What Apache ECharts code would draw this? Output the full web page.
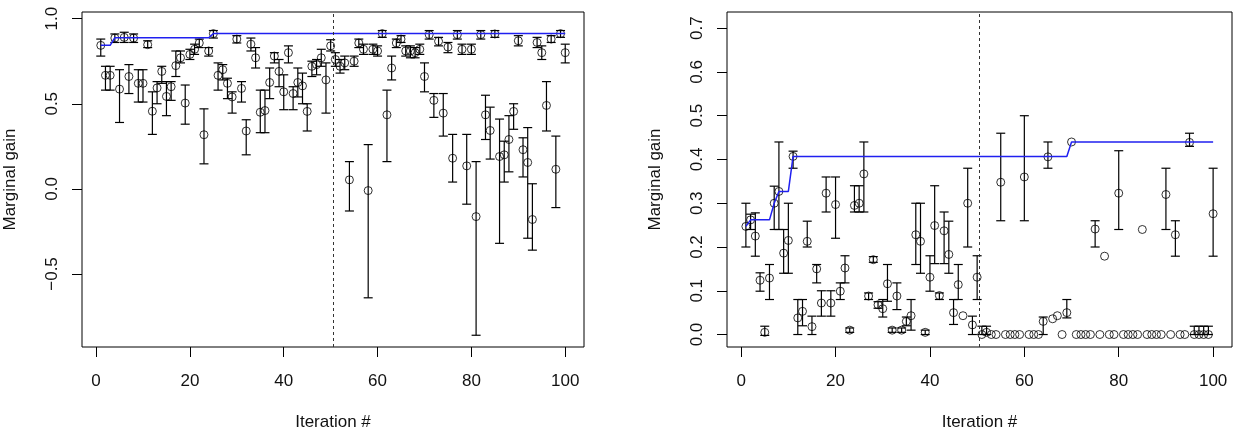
<!DOCTYPE html>
<html>
<head>
<meta charset="utf-8">
<script src="https://cdn.jsdelivr.net/npm/echarts@6/dist/echarts.min.js"></script>
<style>
  html, body { margin: 0; padding: 0; background: #fff; }
  #chart { width: 1243px; height: 437px; }
</style>
</head>
<body>
<div id="chart"></div>
<script>
// --- data (iterations 1..100) ---
var leftMean = [.843,.667,.667,.886,.586,.89,.66,.886,.62,.62,
  .847,.456,.593,.69,.543,.60,.724,.77,.504,.79,
  .82,.857,.318,.81,.912,.667,.70,.62,.54,.88,
  .59,.34,.85,.77,.45,.46,.625,.78,.69,.57,
  .80,.56,.625,.605,.455,.72,.73,.77,.64,.84,
  .76,.72,.74,.053,.75,.857,.82,-.01,.82,.81,
  .912,.435,.71,.857,.88,.81,.81,.80,.82,.66,
  .906,.52,.867,.445,.833,.18,.906,.82,.135,.82,
  -.163,.906,.435,.343,.91,.19,.20,.29,.455,.87,
  .23,.155,-.18,.86,.80,.49,.88,.115,.912,.80];
var leftLo = [.78,.58,.58,.86,.39,.86,.56,.86,.51,.51,
  .83,.32,.50,.62,.43,.52,.66,.74,.38,.76,
  .79,.83,.147,.78,.886,.58,.64,.53,.445,.857,
  .51,.20,.81,.71,.33,.33,.53,.74,.60,.465,
  .74,.465,.54,.50,.34,.66,.67,.72,.445,.81,
  .72,.68,.70,-.13,.72,.83,.79,-.64,.79,.78,
  .89,.16,.64,.83,.86,.78,.77,.77,.79,.57,
  .88,.42,.84,.31,.80,.04,.88,.79,-.09,.79,
  -.86,.88,.29,.175,.89,-.32,.04,.10,.35,.84,
  .07,-.29,-.36,.83,.76,.34,.86,-.11,.89,.74];
var leftHi = [.88,.72,.72,.91,.70,.92,.73,.91,.70,.70,
  .87,.57,.63,.72,.63,.63,.81,.81,.61,.82,
  .85,.88,.47,.83,.93,.74,.73,.65,.57,.90,
  .63,.406,.886,.83,.58,.58,.71,.80,.76,.67,
  .84,.60,.71,.68,.50,.75,.76,.82,.74,.876,
  .80,.76,.78,.16,.78,.88,.85,.26,.85,.84,
  .93,.58,.78,.88,.90,.84,.84,.83,.85,.74,
  .93,.56,.89,.56,.86,.32,.93,.85,.32,.85,
  .16,.93,.55,.48,.93,.41,.28,.43,.50,.90,
  .30,.36,.03,.89,.84,.63,.90,.31,.93,.85];
var leftBestX = [1, 3, 4, 24, 25, 100];
var leftBestY = [.843, .843, .888, .888, .912, .912];

var rightMean = [.247,.262,.225,.124,.005,.129,.30,.327,.186,.215,
  .407,.038,.053,.213,.018,.15,.072,.323,.072,.297,
  .099,.152,.01,.295,.30,.367,.088,.171,.068,.059,
  .116,.01,.088,.01,.03,.043,.228,.213,.005,.131,
  .249,.089,.237,.183,.05,.114,.043,.30,.022,.131,
  0,.005,0,0,.348,0,0,0,0,.36,
  0,0,0,.03,.406,.036,.043,0,.05,.44,
  0,0,0,0,.241,0,.179,0,0,.323,
  0,0,0,0,.24,0,0,0,0,.32,
  0,.228,0,0,.439,0,0,0,0,.276];
var rightLo = [.20,.24,.179,.099,-.002,.08,.24,.24,.14,.14,
  .38,0,.02,.20,0,.118,.042,.28,.042,.22,
  .08,.118,.005,.28,.28,.28,.08,.165,.06,.04,
  .076,.005,.057,.005,.02,.01,.16,.14,0,.099,
  .162,.08,.162,.14,.023,.08,.043,.20,0,.08,
  0,0,0,0,.26,0,0,0,0,.26,
  0,0,0,0,.38,.036,.043,0,.038,.44,
  0,0,0,0,.20,0,.179,0,0,.24,
  0,0,0,0,.24,0,0,0,0,.24,
  0,.179,0,0,.43,0,0,0,0,.179];
var rightHi = [.30,.275,.278,.141,.019,.16,.339,.44,.24,.30,
  .419,.08,.08,.259,.042,.16,.10,.36,.10,.36,
  .118,.18,.015,.34,.34,.44,.095,.178,.075,.08,
  .16,.015,.118,.015,.04,.08,.30,.30,.01,.18,
  .34,.095,.28,.259,.08,.16,.043,.38,.042,.18,
  .019,.019,0,0,.46,0,0,0,0,.50,
  0,0,0,.04,.44,.036,.043,0,.08,.44,
  0,0,0,0,.26,0,.179,0,0,.42,
  0,0,0,0,.24,0,0,0,0,.38,
  0,.26,0,0,.46,.019,.019,.019,.019,.38];
var rightBestX = [1, 2, 6, 7, 8, 10, 11, 69, 70, 100];
var rightBestY = [.247, .262, .262, .30, .327, .327, .407, .407, .44, .44];

var xTicks = [0, 20, 40, 60, 80, 100];
var leftYTicks = [-0.5, 0, 0.5, 1.0];
var rightYTicks = [0, 0.1, 0.2, 0.3, 0.4, 0.5, 0.6, 0.7];
var splitIter = 50.5;

var font = '"Liberation Sans", Arial, Helvetica, sans-serif';
var ink = '#111';
var fs = 17;

function fmt(v) { return v.toFixed(1).replace('-', '\u2212'); }

function xAxisFor(grid) {
  return {
    type: 'value', gridIndex: grid, min: -3, max: 104,
    name: 'Iteration #', nameLocation: 'middle', nameGap: 67,
    nameTextStyle: { color: ink, fontSize: fs, fontFamily: font },
    axisLine: { show: false, onZero: false },
    axisTick: { show: true, length: 10, customValues: xTicks, lineStyle: { color: '#000' } },
    axisLabel: { customValues: xTicks, margin: 26, color: ink, fontSize: fs, fontFamily: font },
    splitLine: { show: false }
  };
}

function yAxisFor(grid, min, max, ticks) {
  return {
    type: 'value', gridIndex: grid, min: min, max: max,
    name: 'Marginal gain', nameLocation: 'middle', nameGap: 63,
    nameTextStyle: { color: ink, fontSize: fs, fontFamily: font },
    axisLine: { show: false, onZero: false },
    axisTick: { show: true, length: 10, customValues: ticks, lineStyle: { color: '#000' } },
    axisLabel: { customValues: ticks, rotate: 90, margin: 21, color: ink, fontSize: fs, fontFamily: font, formatter: fmt },
    splitLine: { show: false }
  };
}

// error bar with caps; R skips zero-length arrows
function renderBar(params, api) {
  var x = api.value(0), lo = api.value(1), hi = api.value(2);
  var top = api.coord([x, hi]), bot = api.coord([x, lo]);
  if (bot[1] - top[1] < 1.5) return;
  var w = 4.5;
  var st = { stroke: '#000', lineWidth: 1.2 };
  return { type: 'group', children: [
    { type: 'line', shape: { x1: top[0], y1: top[1], x2: bot[0], y2: bot[1] }, style: st },
    { type: 'line', shape: { x1: top[0] - w, y1: top[1], x2: top[0] + w, y2: top[1] }, style: st },
    { type: 'line', shape: { x1: bot[0] - w, y1: bot[1], x2: bot[0] + w, y2: bot[1] }, style: st }
  ] };
}

function panelSeries(grid, mean, lo, hi, bestX, bestY) {
  var pts = [], bars = [], best = [];
  for (var i = 0; i < mean.length; i++) {
    pts.push([i + 1, mean[i]]);
    bars.push([i + 1, lo[i], hi[i]]);
  }
  for (var j = 0; j < bestX.length; j++) best.push([bestX[j], bestY[j]]);
  return [
    {
      type: 'custom', xAxisIndex: grid, yAxisIndex: grid, renderItem: renderBar,
      data: bars, encode: { x: 0, y: [1, 2] }, clip: true, silent: true, z: 2
    },
    {
      type: 'scatter', xAxisIndex: grid, yAxisIndex: grid, data: pts,
      symbol: 'circle', symbolSize: 8, silent: true, z: 3,
      itemStyle: { color: 'rgba(0,0,0,0)', borderColor: '#000', borderWidth: 1 },
      markLine: {
        silent: true, symbol: 'none', label: { show: false },
        lineStyle: { color: '#333', type: [3, 3], width: 1 },
        data: [{ xAxis: splitIter }]
      }
    },
    {
      type: 'line', xAxisIndex: grid, yAxisIndex: grid, data: best,
      symbol: 'none', silent: true, z: 4,
      lineStyle: { color: '#2020f0', width: 1.5 }
    }
  ];
}

var chart = echarts.init(document.getElementById('chart'), null, { renderer: 'canvas' });
chart.setOption({
  animation: false,
  backgroundColor: '#fff',
  grid: [
    { left: 82, top: 12, width: 502, height: 335, show: true, borderColor: '#000', borderWidth: 1, backgroundColor: 'transparent' },
    { left: 727, top: 12, width: 505, height: 335, show: true, borderColor: '#000', borderWidth: 1, backgroundColor: 'transparent' }
  ],
  xAxis: [xAxisFor(0), xAxisFor(1)],
  yAxis: [yAxisFor(0, -0.929, 1.039, leftYTicks), yAxisFor(1, -0.0285, 0.737, rightYTicks)],
  series: panelSeries(0, leftMean, leftLo, leftHi, leftBestX, leftBestY)
    .concat(panelSeries(1, rightMean, rightLo, rightHi, rightBestX, rightBestY))
});
</script>
</body>
</html>
